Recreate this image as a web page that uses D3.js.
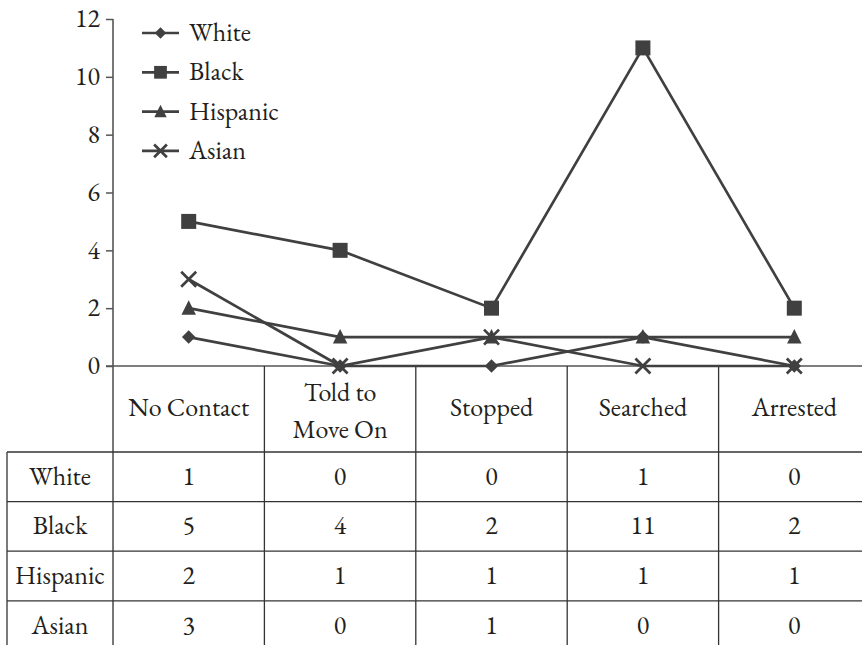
<!DOCTYPE html>
<html><head><meta charset="utf-8">
<script src="https://cdn.jsdelivr.net/npm/d3@7"></script>
<style>html,body{margin:0;padding:0;background:#fff;}svg{display:block;}</style>
</head><body>
<script>
const categories = ["No Contact", "Told to\nMove On", "Stopped", "Searched", "Arrested"];
const seriesNames = ["White", "Black", "Hispanic", "Asian"];
const white = [1, 0, 0, 1, 0];
const black = [5, 4, 2, 11, 2];
const hispanic = [2, 1, 1, 1, 1];
const asian = [3, 0, 1, 0, 0];
const yTicks = [0, 2, 4, 6, 8, 10, 12];
const markers = ["diamond", "square", "triangle", "cross"];
const seriesValues = [white, black, hispanic, asian];

const W = 862, H = 645;
const FONT = "'EB Garamond', 'Liberation Serif', serif";
const FS = 26;
const ink = "#231f20", lineCol = "#404040";
const svg = d3.select("body").append("svg").attr("width", W).attr("height", H);
function txt(sel) { return sel.append("text").attr("font-family", FONT).attr("font-size", FS).attr("fill", ink); }

const x = d3.scaleBand().domain(categories).range([113, 870]);
const y = d3.scaleLinear().domain([0, 12]).range([366, 19]);

const rowTop = 452, rowH = 49.6;

// y axis
const yAxis = d3.axisLeft(y).tickValues(yTicks).tickSize(7).tickPadding(6);
const ga = svg.append("g").attr("transform", "translate(113,0)").call(yAxis);
ga.select(".domain").remove();
ga.selectAll(".tick line").attr("stroke", "#555").attr("stroke-width", 1.5);
ga.selectAll(".tick text").attr("font-size", FS).attr("font-family", FONT).attr("fill", ink).attr("dy", "0.3em");
svg.append("line").attr("x1", 113).attr("x2", 113).attr("y1", y(12)).attr("y2", H)
  .attr("stroke", "#555").attr("stroke-width", 1.6);
svg.append("line").attr("x1", 106).attr("x2", W).attr("y1", y(0)).attr("y2", y(0))
  .attr("stroke", "#555").attr("stroke-width", 1.6);

// table grid
const tg = svg.append("g").attr("stroke", "#333").attr("stroke-width", 1.3);
categories.forEach((c, i) => {
  if (i > 0) tg.append("line").attr("x1", x(c)).attr("x2", x(c)).attr("y1", y(0)).attr("y2", H);
});
for (let r = 0; r < seriesNames.length; r++) {
  tg.append("line").attr("x1", 7).attr("x2", W).attr("y1", rowTop + r * rowH).attr("y2", rowTop + r * rowH);
}
tg.append("line").attr("x1", 7).attr("x2", 7).attr("y1", rowTop).attr("y2", H);

// header text
categories.forEach(c => {
  const lines = c.split("\n");
  const cx = x(c) + x.bandwidth() / 2;
  const t = txt(svg).attr("x", cx).attr("text-anchor", "middle");
  if (lines.length === 1) {
    t.attr("y", 416).text(c);
  } else {
    lines.forEach((l, i) => t.append("tspan").attr("x", cx).attr("y", 401 + i * 37).text(l));
  }
});
// row labels + values
seriesNames.forEach((s, r) => {
  const base = rowTop + r * rowH + rowH / 2 + 8;
  txt(svg).attr("x", 60).attr("y", base).attr("text-anchor", "middle").text(s);
  seriesValues[r].forEach((v, i) => {
    txt(svg).attr("x", x(categories[i]) + x.bandwidth() / 2).attr("y", base)
      .attr("text-anchor", "middle").text(v);
  });
});

// markers
function drawMarker(g, type, cx, cy, s) {
  if (type === "diamond") {
    g.append("path").attr("d", `M${cx},${cy - s * 0.5}L${cx + s * 0.5},${cy}L${cx},${cy + s * 0.5}L${cx - s * 0.5},${cy}Z`).attr("fill", lineCol);
  } else if (type === "square") {
    g.append("rect").attr("x", cx - s * 0.5).attr("y", cy - s * 0.5).attr("width", s).attr("height", s).attr("fill", lineCol);
  } else if (type === "triangle") {
    g.append("path").attr("d", `M${cx},${cy - s * 0.55}L${cx + s * 0.5},${cy + s * 0.45}L${cx - s * 0.5},${cy + s * 0.45}Z`).attr("fill", lineCol);
  } else {
    const h = s * 0.5;
    g.append("path").attr("d", `M${cx - h},${cy - h}L${cx + h},${cy + h}M${cx + h},${cy - h}L${cx - h},${cy + h}`)
      .attr("stroke", lineCol).attr("stroke-width", 2.7).attr("fill", "none");
  }
}
const sizes = {diamond: 13.5, square: 15, triangle: 14.5, cross: 15};
const line = d3.line().x((d, i) => x(categories[i]) + x.bandwidth() / 2).y(d => y(d));
seriesValues.forEach((vals, k) => {
  const g = svg.append("g");
  g.append("path").attr("d", line(vals)).attr("fill", "none").attr("stroke", lineCol).attr("stroke-width", 2.7);
  vals.forEach((v, i) => drawMarker(g, markers[k], x(categories[i]) + x.bandwidth() / 2, y(v), sizes[markers[k]]));
});

// legend
seriesNames.forEach((s, k) => {
  const ly = 33 + k * 39.3;
  const g = svg.append("g");
  g.append("line").attr("x1", 142).attr("x2", 179).attr("y1", ly).attr("y2", ly).attr("stroke", lineCol).attr("stroke-width", 2.7);
  drawMarker(g, markers[k], 160.5, ly, sizes[markers[k]] * 0.85);
  txt(g).attr("x", 189).attr("y", ly + 8).text(s);
});
</script>
</body></html>
